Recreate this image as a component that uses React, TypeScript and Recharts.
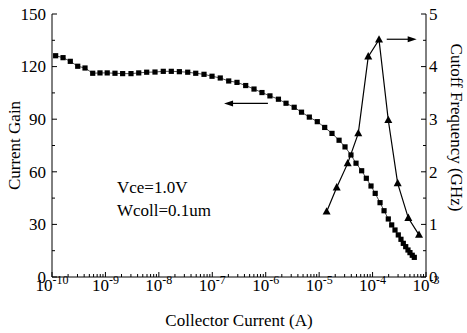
import React from 'react'
import { LineChart, Line, XAxis, YAxis, ReferenceLine, Label } from 'recharts'

// collector current (A) and current gain, square markers
const gainCurrent = [
    1.17e-10, 1.61e-10, 2.2e-10, 3.03e-10, 4.15e-10, 5.78e-10, 7.91e-10,
    1.08e-9, 1.51e-9, 2.1e-9, 3.01e-9, 4.2e-9, 5.92e-9, 8.47e-9,
    1.21e-8, 1.71e-8, 2.42e-8, 3.47e-8, 4.9e-8, 7.0e-8, 9.89e-8,
    1.41e-7, 2.03e-7, 2.9e-7, 4.22e-7, 6.04e-7, 8.51e-7,
    1.2e-6, 1.73e-6, 2.4e-6, 3.41e-6, 4.68e-6, 6.55e-6, 9.23e-6,
    1.27e-5, 1.74e-5, 2.36e-5, 3.05e-5, 3.94e-5, 4.9e-5, 6.25e-5, 7.64e-5, 9.35e-5,
    1.12e-4, 1.38e-4, 1.64e-4, 1.97e-4, 2.28e-4, 2.63e-4, 3.03e-4, 3.4e-4,
    3.76e-4, 4.17e-4, 4.6e-4, 5.01e-4, 5.53e-4, 6.04e-4,
]
const gainValues = [
    126.2, 125.1, 123.0, 120.2, 119.2, 116.2, 116.4,
    116.4, 116.2, 116.0, 116.0, 116.4, 116.8, 116.9,
    117.3, 117.3, 117.1, 116.8, 116.2, 115.6, 114.5,
    113.5, 111.8, 111.0, 109.2, 107.2, 105.2,
    103.3, 101.4, 99.1, 96.8, 94.0, 91.2, 88.6,
    85.3, 81.9, 78.0, 74.2, 69.6, 64.9, 60.6, 56.3, 51.9,
    47.7, 42.4, 37.8, 33.1, 29.7, 26.8, 24.0, 21.5,
    19.2, 17.3, 15.4, 13.9, 12.4, 11.2,
]

// cutoff frequency (GHz), triangle markers
const ftCurrent = [1.38e-5, 2.13e-5, 3.42e-5, 5.4e-5, 8.3e-5, 1.32e-4, 1.97e-4, 2.95e-4, 4.67e-4, 7.4e-4]
const ftValues = [1.24, 1.7, 2.16, 2.73, 4.19, 4.51, 2.98, 1.78, 1.12, 0.8]

const decades = [-10, -9, -8, -7, -6, -5, -4, -3]
const gainTicks = [0, 15, 30, 45, 60, 75, 90, 105, 120, 135, 150]
const ftTicks = [0, 0.5, 1, 1.5, 2, 2.5, 3, 3.5, 4, 4.5, 5]

const gainData = gainCurrent.map((x, i) => ({ x, gain: gainValues[i] }))
const ftData = ftCurrent.map((x, i) => ({ x, ft: ftValues[i] }))

const currentTicks: number[] = []
decades.forEach((d) => {
    if (d === decades[decades.length - 1]) {
        currentTicks.push(Math.pow(10, d))
    } else {
        for (let m = 1; m <= 9; m++) currentTicks.push(m * Math.pow(10, d))
    }
})

const FONT = "'Liberation Serif', 'Times New Roman', serif"

const isDecade = (v: number) => {
    const lg = Math.log10(v)
    return Math.abs(lg - Math.round(lg)) < 1e-6
}

const BottomTick = (props: any) => {
    const { x, y, payload } = props
    const major = isDecade(payload.value)
    return (
        <g>
            <line x1={x} x2={x} y1={y} y2={y - (major ? 5 : 3)} stroke="#000" />
            {major && (
                <text x={x} y={y + 14} textAnchor="middle" fontFamily={FONT} fill="#000">
                    <tspan fontSize={17}>10</tspan>
                    <tspan fontSize={12} dy={-7}>{Math.round(Math.log10(payload.value))}</tspan>
                </text>
            )}
        </g>
    )
}

const TopTick = (props: any) => {
    const { x, y, payload } = props
    const major = isDecade(payload.value)
    return <line x1={x} x2={x} y1={y} y2={y + (major ? 5 : 3)} stroke="#000" />
}

const LeftTick = (props: any) => {
    const { x, y, payload } = props
    const major = payload.value % 30 === 0
    return (
        <g>
            <line x1={x} x2={x + (major ? 5 : 3)} y1={y} y2={y} stroke="#000" />
            {major && (
                <text x={x - 6} y={y} dy="0.34em" textAnchor="end" fontFamily={FONT} fontSize={17} fill="#000">
                    {payload.value}
                </text>
            )}
        </g>
    )
}

const RightTick = (props: any) => {
    const { x, y, payload } = props
    const major = Number.isInteger(payload.value)
    return (
        <g>
            <line x1={x} x2={x - (major ? 5 : 3)} y1={y} y2={y} stroke="#000" />
            {major && (
                <text x={x + 3} y={y} dy="0.34em" textAnchor="start" fontFamily={FONT} fontSize={17} fill="#000">
                    {payload.value}
                </text>
            )}
        </g>
    )
}

const SquareDot = (props: any) => {
    const { cx, cy } = props
    if (cx == null || cy == null) return null
    return <rect x={cx - 2.6} y={cy - 2.6} width={5.2} height={5.2} fill="#000" />
}

const TriangleDot = (props: any) => {
    const { cx, cy } = props
    if (cx == null || cy == null) return null
    return <path d={`M${cx},${cy - 4.5}L${cx + 4},${cy + 2.8}L${cx - 4},${cy + 2.8}Z`} fill="#000" />
}

// arrow with its head on the first point of the segment
const Arrow = (props: any) => {
    const { x1, y1, x2, y2 } = props
    const dir = x2 > x1 ? 1 : -1
    return (
        <g>
            <line x1={x1 + dir * 6} y1={y1} x2={x2} y2={y2} stroke="#000" strokeWidth={1.2} />
            <path d={`M${x1},${y1}L${x1 + dir * 9},${y1 - 3}L${x1 + dir * 9},${y1 + 3}Z`} fill="#000" />
        </g>
    )
}

export default function App() {
    return (
        <div style={{ position: 'absolute', left: 0, top: 0, width: 467, height: 333, background: '#fff' }}>
            <LineChart width={467} height={333} margin={{ top: 14, right: 0, bottom: 0, left: 0 }}>
                <XAxis
                    dataKey="x"
                    type="number"
                    scale="log"
                    domain={[1e-10, 1e-3]}
                    allowDataOverflow
                    ticks={currentTicks}
                    interval={0}
                    tick={<BottomTick />}
                    tickLine={false}
                    tickSize={0}
                    tickMargin={0}
                    height={56}
                    axisLine={{ stroke: '#000' }}
                >
                    <Label
                        content={({ viewBox }: any) => (
                            <text
                                x={viewBox.x + viewBox.width / 2}
                                y={326}
                                textAnchor="middle"
                                fontFamily={FONT}
                                fontSize={17}
                                fill="#000"
                            >
                                Collector Current (A)
                            </text>
                        )}
                    />
                </XAxis>
                <XAxis
                    xAxisId="top"
                    orientation="top"
                    dataKey="x"
                    type="number"
                    scale="log"
                    domain={[1e-10, 1e-3]}
                    allowDataOverflow
                    ticks={currentTicks}
                    interval={0}
                    tick={<TopTick />}
                    tickLine={false}
                    tickSize={0}
                    tickMargin={0}
                    height={0}
                    axisLine={{ stroke: '#000' }}
                />
                <YAxis
                    yAxisId="left"
                    type="number"
                    domain={[0, 150]}
                    ticks={gainTicks}
                    interval={0}
                    tick={<LeftTick />}
                    tickLine={false}
                    tickSize={0}
                    tickMargin={0}
                    width={52}
                    axisLine={{ stroke: '#000' }}
                >
                    <Label
                        content={({ viewBox }: any) => {
                            const cy = viewBox.y + viewBox.height / 2
                            return (
                                <text
                                    x={20}
                                    y={cy}
                                    transform={`rotate(-90, 20, ${cy})`}
                                    textAnchor="middle"
                                    fontFamily={FONT}
                                    fontSize={17}
                                    fill="#000"
                                >
                                    Current Gain
                                </text>
                            )
                        }}
                    />
                </YAxis>
                <YAxis
                    yAxisId="right"
                    orientation="right"
                    type="number"
                    domain={[0, 5]}
                    ticks={ftTicks}
                    interval={0}
                    tick={<RightTick />}
                    tickLine={false}
                    tickSize={0}
                    tickMargin={0}
                    width={41}
                    axisLine={{ stroke: '#000' }}
                >
                    <Label
                        content={({ viewBox }: any) => {
                            const cy = viewBox.y + viewBox.height / 2 - 18
                            return (
                                <text
                                    x={451}
                                    y={cy}
                                    transform={`rotate(90, 451, ${cy})`}
                                    textAnchor="middle"
                                    fontFamily={FONT}
                                    fontSize={17}
                                    fill="#000"
                                >
                                    Cutoff Frequency (GHz)
                                </text>
                            )
                        }}
                    />
                </YAxis>
                <Line
                    yAxisId="left"
                    data={gainData}
                    dataKey="gain"
                    stroke="#000"
                    strokeWidth={0.7}
                    dot={<SquareDot />}
                    activeDot={false}
                    isAnimationActive={false}
                />
                <Line
                    yAxisId="right"
                    data={ftData}
                    dataKey="ft"
                    stroke="#000"
                    strokeWidth={1.2}
                    dot={<TriangleDot />}
                    activeDot={false}
                    isAnimationActive={false}
                />
                <ReferenceLine
                    yAxisId="left"
                    segment={[{ x: 1.66e-7, y: 99 }, { x: 1.1e-6, y: 99 }]}
                    shape={<Arrow />}
                />
                <ReferenceLine
                    yAxisId="right"
                    segment={[{ x: 6.7e-4, y: 4.52 }, { x: 1.84e-4, y: 4.52 }]}
                    shape={<Arrow />}
                />
            </LineChart>
            <svg width={467} height={333} style={{ position: 'absolute', left: 0, top: 0, pointerEvents: 'none' }}>
                <text x={117} y={193} fontFamily={FONT} fontSize={17} fill="#000">Vce=1.0V</text>
                <text x={117} y={216} fontFamily={FONT} fontSize={17} fill="#000">Wcoll=0.1um</text>
            </svg>
        </div>
    )
}
